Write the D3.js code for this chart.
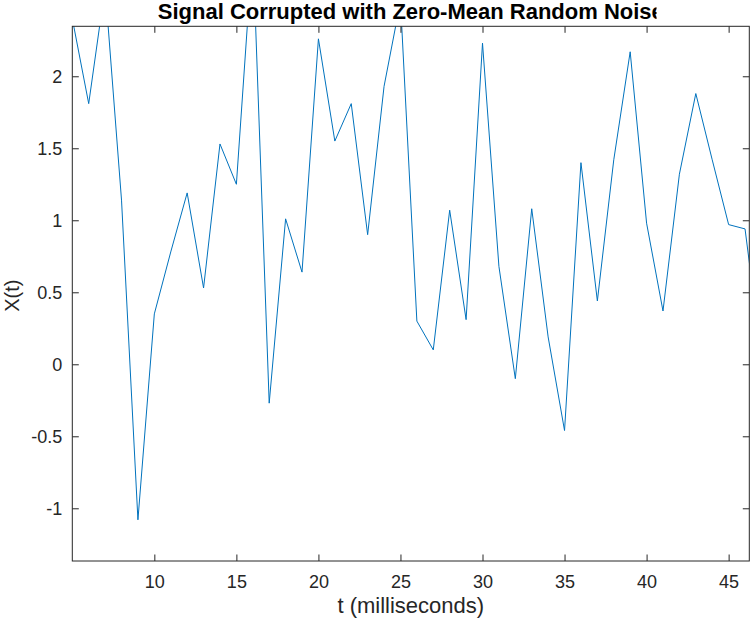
<!DOCTYPE html>
<html><head><meta charset="utf-8">
<script src="https://cdn.jsdelivr.net/npm/d3@7"></script>
<style>body{margin:0;background:#fff}svg{display:block}text{font-family:"Liberation Sans",Arial,sans-serif}</style>
</head><body>
<script>
const tValues = [5,6,7,8,9,10,11,12,13,14,15,16,17,18,19,20,21,22,23,24,25,26,27,28,29,30,31,32,33,34,35,36,37,38,39,40,41,42,43,44,45,46,47];
const xValues = [2.40,1.81,2.62,1.14,-1.08,0.35,0.78,1.19,0.53,1.53,1.25,2.90,-0.27,1.01,0.64,2.26,1.55,1.81,0.90,1.93,2.52,0.30,0.10,1.07,0.31,2.23,0.68,-0.10,1.08,0.19,-0.46,1.40,0.44,1.42,2.17,0.98,0.37,1.32,1.88,1.42,0.97,0.94,0.05];
const xTicks = [10,15,20,25,30,35,40,45];
const yTicks = [-1,-0.5,0,0.5,1,1.5,2];
const xDomain = [5, 46.26];
const yDomain = [-1.366, 2.347];
const titleText = "Signal Corrupted with Zero-Mean Random Noise";
const xLabel = "t (milliseconds)";
const yLabel = "X(t)";

const W = 752, H = 623;
const m = {left: 72.3, right: 2.7, top: 26.3, bottom: 62};
const pw = W - m.left - m.right, ph = H - m.top - m.bottom;
const axisColor = "#262626";

const svg = d3.select("body").append("svg").attr("width", W).attr("height", H);
const defs = svg.append("defs");
defs.append("clipPath").attr("id","plotclip").append("rect")
  .attr("x",0).attr("y",0).attr("width",pw).attr("height",ph);
defs.append("clipPath").attr("id","titleclip").append("rect")
  .attr("x",0).attr("y",0).attr("width",656.5).attr("height",26);

const x = d3.scaleLinear().domain(xDomain).range([0, pw]);
const y = d3.scaleLinear().domain(yDomain).range([ph, 0]);

const g = svg.append("g").attr("transform", `translate(${m.left},${m.top})`);

// line
const data = tValues.map((t,i)=>({t, v:xValues[i]}));
g.append("g").attr("clip-path","url(#plotclip)")
  .append("path").datum(data)
  .attr("fill","none").attr("stroke","#0072BD").attr("stroke-width",1)
  .attr("stroke-linejoin","miter")
  .attr("d", d3.line().x(d=>x(d.t)).y(d=>y(d.v)));

const tickLen = 6.5;
function styleAxis(sel){
  sel.selectAll(".domain").remove();
  sel.selectAll("line").attr("stroke",axisColor).attr("stroke-width",1);
  sel.selectAll("text").attr("fill",axisColor).style("font-size","18px");
}
// bottom
const xb = g.append("g").attr("transform",`translate(0,${ph})`)
  .call(d3.axisBottom(x).tickValues(xTicks).tickSize(-tickLen).tickPadding(14).tickFormat(d=>String(d)));
styleAxis(xb);
// top
const xt = g.append("g")
  .call(d3.axisTop(x).tickValues(xTicks).tickSize(-tickLen).tickFormat(""));
styleAxis(xt);
// left
const yl = g.append("g")
  .call(d3.axisLeft(y).tickValues(yTicks).tickSize(-tickLen).tickPadding(10).tickFormat(d=>String(d)));
styleAxis(yl);
// right
const yr = g.append("g").attr("transform",`translate(${pw},0)`)
  .call(d3.axisRight(y).tickValues(yTicks).tickSize(-tickLen).tickFormat(""));
styleAxis(yr);

// box
g.append("rect").attr("x",0).attr("y",0).attr("width",pw).attr("height",ph)
  .attr("fill","none").attr("stroke",axisColor).attr("stroke-width",1);

// title
svg.append("g").attr("clip-path","url(#titleclip)")
  .append("text").attr("x", m.left + pw/2).attr("y", 18.5)
  .attr("text-anchor","middle").attr("font-weight","bold")
  .style("font-size","22px").attr("fill","#000").text(titleText);

// x label
svg.append("text").attr("x", m.left + pw/2).attr("y", 613)
  .attr("text-anchor","middle").style("font-size","22px").attr("fill",axisColor).text(xLabel);
// y label
svg.append("text").attr("transform",`translate(19,${m.top+ph/2+2}) rotate(-90)`)
  .attr("text-anchor","middle").style("font-size","20px").attr("fill",axisColor).text(yLabel);
</script>
</body></html>
